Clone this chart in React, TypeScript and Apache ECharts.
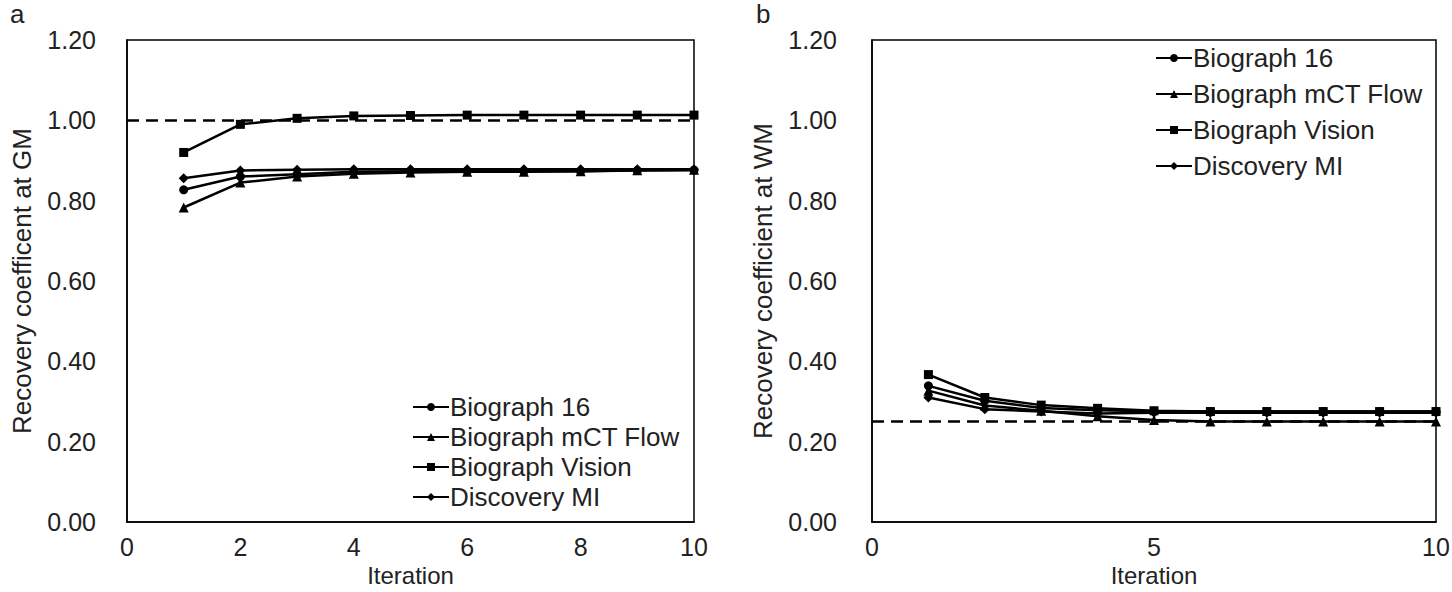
import React, { useEffect, useRef } from "react";
import * as echarts from "echarts";

const iterations = [1, 2, 3, 4, 5, 6, 7, 8, 9, 10];
const seriesNames = ["Biograph 16", "Biograph mCT Flow", "Biograph Vision", "Discovery MI"];
const symbols = ["circle", "triangle", "rect", "diamond"];

// Panel a: grey matter
const gmBiograph16 = [0.827, 0.86, 0.866, 0.872, 0.873, 0.873, 0.873, 0.873, 0.875, 0.876];
const gmMctFlow = [0.783, 0.845, 0.86, 0.867, 0.87, 0.872, 0.872, 0.873, 0.876, 0.877];
const gmVision = [0.92, 0.99, 1.005, 1.011, 1.012, 1.013, 1.013, 1.013, 1.013, 1.013];
const gmDiscovery = [0.856, 0.875, 0.877, 0.878, 0.878, 0.878, 0.878, 0.878, 0.878, 0.878];
const gmReference = 1.0;

// Panel b: white matter
const wmBiograph16 = [0.339, 0.302, 0.284, 0.278, 0.276, 0.275, 0.275, 0.275, 0.275, 0.275];
const wmMctFlow = [0.327, 0.29, 0.277, 0.263, 0.254, 0.25, 0.25, 0.25, 0.25, 0.25];
const wmVision = [0.367, 0.31, 0.291, 0.283, 0.277, 0.275, 0.275, 0.275, 0.275, 0.275];
const wmDiscovery = [0.31, 0.281, 0.275, 0.27, 0.272, 0.272, 0.272, 0.272, 0.272, 0.272];
const wmReference = 0.25;

const FONT = "Liberation Sans, Arial, sans-serif";
const TEXT = "#222";

export default function App() {
  const ref = useRef<HTMLDivElement>(null);
  useEffect(() => {
    if (!ref.current) return;
    const chart = echarts.init(ref.current, undefined, { renderer: "svg" });
    const gm = [gmBiograph16, gmMctFlow, gmVision, gmDiscovery];
    const wm = [wmBiograph16, wmMctFlow, wmVision, wmDiscovery];

    const mkSeries = (data: number[][], idx: number, refVal: number) =>
      data.map((vals, i) => ({
        type: "line",
        name: seriesNames[i],
        xAxisIndex: idx,
        yAxisIndex: idx,
        data: vals.map((v, j) => [iterations[j], v]),
        symbol: symbols[i],
        symbolSize: i === 1 || i === 3 ? 10 : 9,
        lineStyle: { color: "#000", width: 2.5 },
        itemStyle: { color: "#000" },
        z: 3,
        markLine:
          i === 0
            ? {
                silent: true,
                symbol: "none",
                label: { show: false },
                lineStyle: { color: "#000", width: 2.5, type: [12, 7] },
                data: [{ yAxis: refVal }],
              }
            : undefined,
      }));

    const yAxisBase = (name: string, gridIndex: number, gap: number, margin: number) => ({
      type: "value",
      gridIndex,
      min: 0,
      max: 1.2,
      interval: 0.2,
      name,
      nameLocation: "middle",
      nameGap: gap,
      nameRotate: 90,
      nameMoveOverlap: false,
      nameTextStyle: { fontSize: 26, color: TEXT, fontFamily: FONT },
      axisLine: { show: true, lineStyle: { color: "#000", width: 1.5 } },
      axisTick: { show: false },
      splitLine: { show: false },
      axisLabel: {
        fontSize: 25,
        color: TEXT,
        fontFamily: FONT,
        margin,
        formatter: (v: number) => v.toFixed(2),
      },
    });

    const xAxisBase = (gridIndex: number, interval: number) => ({
      type: "value",
      gridIndex,
      min: 0,
      max: 10,
      interval,
      name: "Iteration",
      nameLocation: "middle",
      nameGap: 41,
      nameMoveOverlap: false,
      nameTextStyle: { fontSize: 24, color: TEXT, fontFamily: FONT },
      axisLine: { show: true, lineStyle: { color: "#000", width: 1.5 } },
      axisTick: { show: false },
      splitLine: { show: false },
      axisLabel: { fontSize: 25, color: TEXT, fontFamily: FONT, margin: 12 },
    });

    const legendBase = {
      orient: "vertical",
      data: seriesNames,
      padding: 0,
      itemWidth: 36,
      itemHeight: 10,
      textStyle: { fontSize: 26, color: TEXT, fontFamily: FONT, padding: [0, 0, 0, -4] },
      selectedMode: false,
    };

    chart.setOption({
      animation: false,
      backgroundColor: "#fff",
      grid: [
        {
          left: 127, top: 40, width: 567, height: 482, show: true,
          borderColor: "#000", borderWidth: 1.5, containLabel: false, outerBoundsMode: "none",
        },
        {
          left: 872, top: 40, width: 564, height: 482, show: true,
          borderColor: "#000", borderWidth: 1.5, containLabel: false, outerBoundsMode: "none",
        },
      ],
      xAxis: [xAxisBase(0, 2), xAxisBase(1, 5)],
      yAxis: [
        yAxisBase("Recovery coefficent at GM", 0, 92, 31),
        yAxisBase("Recovery coefficient at WM", 1, 96, 35),
      ],
      legend: [
        { ...legendBase, left: 412, top: 394, itemGap: 4 },
        { ...legendBase, left: 1155, top: 45, itemGap: 10 },
      ],
      graphic: [
        { type: "text", left: 10, top: 1, style: { text: "a", fontSize: 26, fill: TEXT, fontFamily: FONT } },
        { type: "text", left: 756, top: 1, style: { text: "b", fontSize: 26, fill: TEXT, fontFamily: FONT } },
      ],
      series: [...mkSeries(gm, 0, gmReference), ...mkSeries(wm, 1, wmReference)],
    });
    return () => chart.dispose();
  }, []);
  return <div ref={ref} style={{ position: "fixed", left: 0, top: 0, width: 1452, height: 592 }} />;
}
